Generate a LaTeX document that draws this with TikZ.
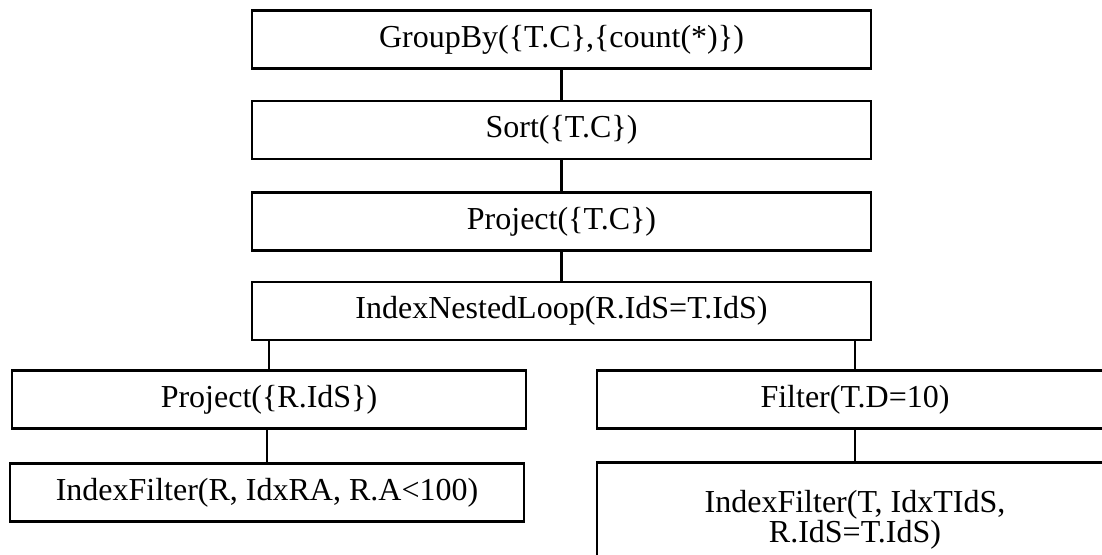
\documentclass[tikz,border=0pt]{standalone}
\usepackage{fontspec}
\setmainfont{Liberation Serif}
\usetikzlibrary{positioning}

\tikzset{
  opbox/.style={draw, line width=1.9pt, inner sep=0pt, align=center,
    minimum height=43.5pt, font=\fontsize{24}{21}\selectfont},
  wideop/.style={opbox, minimum width=464.25pt},
  leftop/.style={opbox, minimum width=385.5pt},
  rightop/.style={opbox, minimum width=387pt},
  link/.style={line width=1.6pt}
}

\begin{document}
\begin{tikzpicture}[x=0.75pt,y=0.75pt,yscale=-1,xscale=1]
				%set diagram size: 1102 x 555
				\useasboundingbox (0,0) rectangle (1102,555);
				\clip (0,0) rectangle (1102,555);
				
				%Operators: main chain
				\node [wideop] (groupby) at (561.5,39.5) {GroupBy(\{T.C\},\{count(*)\})};
				\node [wideop] (sort) at (561.5,130) {Sort(\{T.C\})};
				\node [wideop] (projtc) at (561.5,221.5) {Project(\{T.C\})};
				\node [wideop] (inljoin) at (561.5,311) {IndexNestedLoop(R.IdS=T.IdS)};
				
				%Operators: left branch
				\node [leftop] (projr) at (269,399.5) {Project(\{R.IdS\})};
				\node [leftop] (idxr) at (267,492.5) {IndexFilter(R, IdxRA, R.A<100)};
				
				%Operators: right branch
				\node [rightop] (filtt) at (855,399.5) {Filter(T.D=10)};
				\node [rightop, anchor=north, minimum height=86.25pt] (idxt) at (855,461) {IndexFilter(T, IdxTIdS,\\R.IdS=T.IdS)};
				
				%Links
				\draw [link] (groupby.south) -- (sort.north);
				\draw [link] (sort.south) -- (projtc.north);
				\draw [link] (projtc.south) -- (inljoin.north);
				\draw [link] (projr.north) -- (projr.north |- inljoin.south);
				\draw [link] (filtt.north) -- (filtt.north |- inljoin.south);
				\draw [link] (idxr.north) -- (idxr.north |- projr.south);
				\draw [link] (filtt.south) -- (idxt.north);
				
\end{tikzpicture}
\end{document}
